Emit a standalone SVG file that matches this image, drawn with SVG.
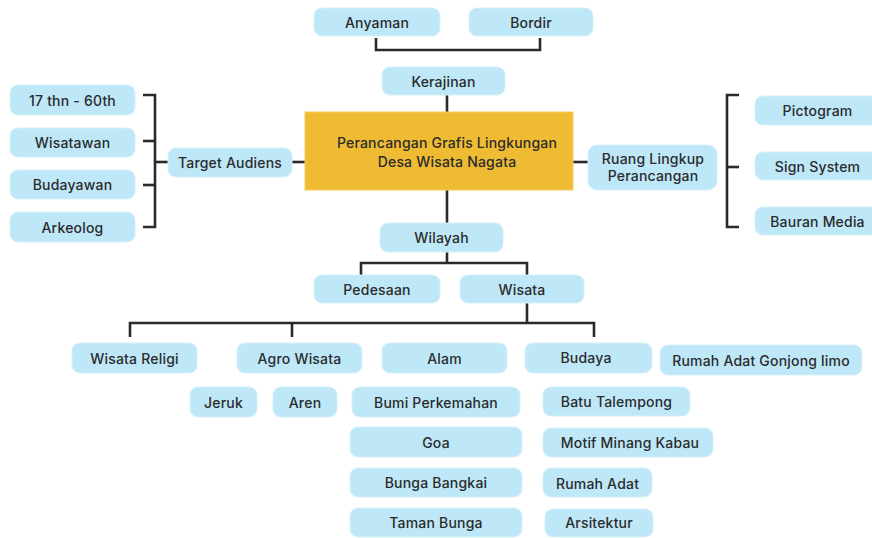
<svg xmlns="http://www.w3.org/2000/svg" width="872" height="538" viewBox="0 0 872 538">
<style>
.n{fill:#BEE7F8;stroke:#D6F0FB;stroke-width:1}
.c{fill:#EEBB33;stroke:#F3CC5E;stroke-width:1}
.t{font-family:Inter,"Open Sans",sans-serif;font-size:14px;font-weight:500;letter-spacing:0.2px;fill:#2b2b2b;text-anchor:middle;dominant-baseline:central}
.e{fill:none;stroke:#2a2a2a;stroke-width:2.6;stroke-linecap:butt;stroke-linejoin:miter}
</style>
<rect width="872" height="538" fill="#ffffff"/>
<g id="connectors" class="e">
<path d="M376,38 V50 H540 V38"/>
<path d="M447,95 V112"/>
<path d="M447,190 V223"/>
<path d="M447,252 V263"/>
<path d="M361,275 V263 H527 V275"/>
<path d="M527,303 V323"/>
<path d="M130,337 V323 H594 V337"/>
<path d="M292,323 V337"/>
<path d="M143,95 H155 V227 H143"/>
<path d="M143,141 H155"/>
<path d="M143,185 H155"/>
<path d="M155,162 H168"/>
<path d="M292,162 H305"/>
<path d="M573,162 H588"/>
<path d="M739,95 H727 V227 H739"/>
<path d="M727,167 H739"/>
</g>
<g id="anyaman"><rect class="n" x="314" y="8" width="126" height="28" rx="8"/><text class="t" x="377" y="22">Anyaman</text></g>
<g id="bordir"><rect class="n" x="469" y="8" width="124" height="28" rx="8"/><text class="t" x="531" y="22">Bordir</text></g>
<g id="kerajinan"><rect class="n" x="382" y="67" width="123" height="28" rx="8"/><text class="t" x="443.5" y="81">Kerajinan</text></g>
<g id="center"><rect class="c" x="305" y="112" width="268" height="78"/><text class="t" x="447" y="142">Perancangan Grafis Lingkungan</text><text class="t" x="447" y="161">Desa Wisata Nagata</text></g>
<g id="wilayah"><rect class="n" x="380" y="223" width="123" height="29" rx="8"/><text class="t" x="441.5" y="237.5">Wilayah</text></g>
<g id="pedesaan"><rect class="n" x="314" y="275" width="126" height="28" rx="8"/><text class="t" x="377" y="289">Pedesaan</text></g>
<g id="wisata"><rect class="n" x="460" y="275" width="124" height="28" rx="8"/><text class="t" x="522" y="289">Wisata</text></g>
<g id="usia"><rect class="n" x="10" y="85" width="125" height="30" rx="8"/><text class="t" x="72.5" y="100">17 thn - 60th</text></g>
<g id="wisatawan"><rect class="n" x="10" y="128" width="125" height="29" rx="8"/><text class="t" x="72.5" y="142.5">Wisatawan</text></g>
<g id="budayawan"><rect class="n" x="10" y="170" width="125" height="29" rx="8"/><text class="t" x="72.5" y="184.5">Budayawan</text></g>
<g id="arkeolog"><rect class="n" x="10" y="212" width="125" height="30" rx="8"/><text class="t" x="72.5" y="227">Arkeolog</text></g>
<g id="target"><rect class="n" x="168" y="148" width="124" height="29" rx="8"/><text class="t" x="230" y="162.5">Target Audiens</text></g>
<g id="ruang"><rect class="n" x="588" y="145" width="129" height="45" rx="9"/><text class="t" x="653" y="158">Ruang Lingkup</text><text class="t" x="653" y="175.5">Perancangan</text></g>
<g id="pictogram"><rect class="n" x="755" y="96" width="125" height="29" rx="8"/><text class="t" x="817.5" y="110.5">Pictogram</text></g>
<g id="sign"><rect class="n" x="755" y="152" width="125" height="28" rx="8"/><text class="t" x="817.5" y="166">Sign System</text></g>
<g id="bauran"><rect class="n" x="755" y="207" width="125" height="28" rx="8"/><text class="t" x="817.5" y="221">Bauran Media</text></g>
<g id="religi"><rect class="n" x="72" y="343" width="125" height="30" rx="8"/><text class="t" x="134.5" y="358">Wisata Religi</text></g>
<g id="agro"><rect class="n" x="237" y="343" width="125" height="30" rx="8"/><text class="t" x="299.5" y="358">Agro Wisata</text></g>
<g id="alam"><rect class="n" x="382" y="343" width="125" height="30" rx="8"/><text class="t" x="444.5" y="358">Alam</text></g>
<g id="budaya"><rect class="n" x="525" y="343" width="127" height="30" rx="8"/><text class="t" x="586" y="357">Budaya</text></g>
<g id="gonjong"><rect class="n" x="660" y="345" width="202" height="30" rx="8"/><text class="t" x="761" y="360">Rumah Adat Gonjong limo</text></g>
<g id="jeruk"><rect class="n" x="190" y="387" width="67" height="30" rx="8"/><text class="t" x="223.5" y="402">Jeruk</text></g>
<g id="aren"><rect class="n" x="273" y="387" width="64" height="30" rx="8"/><text class="t" x="305" y="402">Aren</text></g>
<g id="bumi"><rect class="n" x="352" y="387" width="168" height="30" rx="8"/><text class="t" x="436" y="402">Bumi Perkemahan</text></g>
<g id="talempong"><rect class="n" x="543" y="387" width="147" height="29" rx="8"/><text class="t" x="616.5" y="401.5">Batu Talempong</text></g>
<g id="goa"><rect class="n" x="350" y="427" width="172" height="30" rx="8"/><text class="t" x="436" y="442">Goa</text></g>
<g id="motif"><rect class="n" x="543" y="428" width="170" height="29" rx="8"/><text class="t" x="630" y="442.5">Motif Minang Kabau</text></g>
<g id="bangkai"><rect class="n" x="350" y="468" width="172" height="29" rx="8"/><text class="t" x="436" y="482.5">Bunga Bangkai</text></g>
<g id="rumahadat"><rect class="n" x="543" y="468" width="109" height="29" rx="8"/><text class="t" x="597.5" y="483">Rumah Adat</text></g>
<g id="taman"><rect class="n" x="350" y="508" width="172" height="29" rx="8"/><text class="t" x="436" y="522.5">Taman Bunga</text></g>
<g id="arsitektur"><rect class="n" x="545" y="509" width="108" height="28" rx="8"/><text class="t" x="599" y="522">Arsitektur</text></g>
</svg>
